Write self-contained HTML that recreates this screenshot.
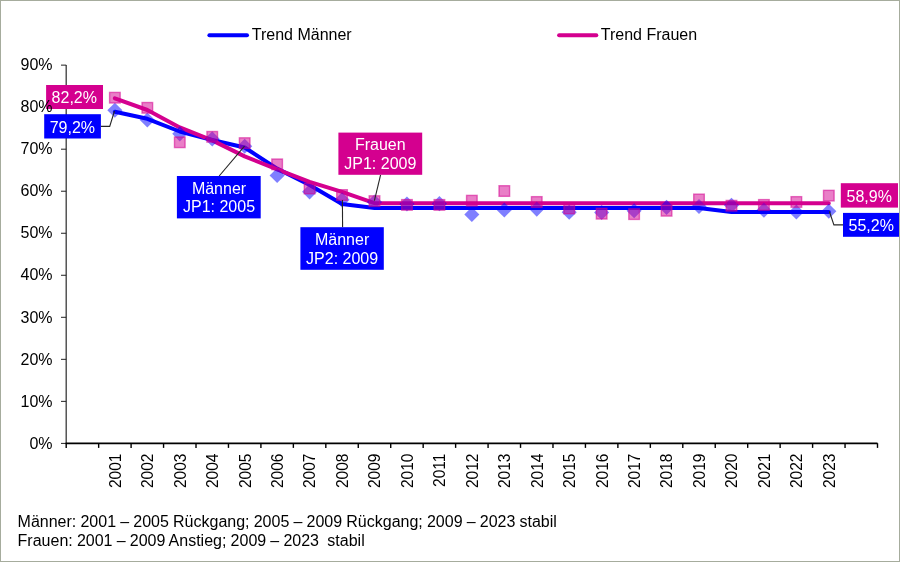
<!DOCTYPE html>
<html><head><meta charset="utf-8"><title>Trend Männer / Frauen</title>
<style>
html,body{margin:0;padding:0;background:#fff;}
body{width:900px;height:562px;overflow:hidden;}
svg{display:block;will-change:transform;}
text{font-family:"Liberation Sans",Arial,sans-serif;font-size:16px;}
.t{fill:#000;}
.w{fill:#fff;}
.ft{fill:#000;white-space:pre;word-spacing:-0.28px;}
</style></head>
<body>
<svg width="900" height="562" viewBox="0 0 900 562">
<rect x="0.5" y="0.5" width="899" height="561" fill="#fff" stroke="#a6ac9d" stroke-width="1"/>
<line x1="66.2" y1="64.93" x2="66.2" y2="443.2" stroke="#3a3a3a" stroke-width="1.3"/>
<line x1="61" y1="443.4" x2="66.2" y2="443.4" stroke="#222" stroke-width="1.0"/>
<line x1="61" y1="401.37" x2="66.2" y2="401.37" stroke="#222" stroke-width="1.0"/>
<line x1="61" y1="359.34" x2="66.2" y2="359.34" stroke="#222" stroke-width="1.0"/>
<line x1="61" y1="317.31" x2="66.2" y2="317.31" stroke="#222" stroke-width="1.0"/>
<line x1="61" y1="275.28" x2="66.2" y2="275.28" stroke="#222" stroke-width="1.0"/>
<line x1="61" y1="233.25" x2="66.2" y2="233.25" stroke="#222" stroke-width="1.0"/>
<line x1="61" y1="191.22" x2="66.2" y2="191.22" stroke="#222" stroke-width="1.0"/>
<line x1="61" y1="149.19" x2="66.2" y2="149.19" stroke="#222" stroke-width="1.0"/>
<line x1="61" y1="107.16" x2="66.2" y2="107.16" stroke="#222" stroke-width="1.0"/>
<line x1="61" y1="65.13" x2="66.2" y2="65.13" stroke="#222" stroke-width="1.0"/>
<text transform="matrix(1,0,0,1,52.6,448.6)" text-anchor="end" class="t">0%</text>
<text transform="matrix(1,0,0,1,52.6,406.57)" text-anchor="end" class="t">10%</text>
<text transform="matrix(1,0,0,1,52.6,364.54)" text-anchor="end" class="t">20%</text>
<text transform="matrix(1,0,0,1,52.6,322.51)" text-anchor="end" class="t">30%</text>
<text transform="matrix(1,0,0,1,52.6,280.48)" text-anchor="end" class="t">40%</text>
<text transform="matrix(1,0,0,1,52.6,238.45)" text-anchor="end" class="t">50%</text>
<text transform="matrix(1,0,0,1,52.6,196.42)" text-anchor="end" class="t">60%</text>
<text transform="matrix(1,0,0,1,52.6,154.39)" text-anchor="end" class="t">70%</text>
<text transform="matrix(1,0,0,1,52.6,70.33)" text-anchor="end" class="t">90%</text>
<line x1="65.6" y1="443.3" x2="877.5" y2="443.3" stroke="#000" stroke-width="1.8"/>
<line x1="66.2" y1="443.2" x2="66.2" y2="447.9" stroke="#000" stroke-width="1.4"/>
<line x1="98.65" y1="443.2" x2="98.65" y2="447.9" stroke="#000" stroke-width="1.4"/>
<line x1="131.1" y1="443.2" x2="131.1" y2="447.9" stroke="#000" stroke-width="1.4"/>
<line x1="163.56" y1="443.2" x2="163.56" y2="447.9" stroke="#000" stroke-width="1.4"/>
<line x1="196.01" y1="443.2" x2="196.01" y2="447.9" stroke="#000" stroke-width="1.4"/>
<line x1="228.46" y1="443.2" x2="228.46" y2="447.9" stroke="#000" stroke-width="1.4"/>
<line x1="260.91" y1="443.2" x2="260.91" y2="447.9" stroke="#000" stroke-width="1.4"/>
<line x1="293.36" y1="443.2" x2="293.36" y2="447.9" stroke="#000" stroke-width="1.4"/>
<line x1="325.82" y1="443.2" x2="325.82" y2="447.9" stroke="#000" stroke-width="1.4"/>
<line x1="358.27" y1="443.2" x2="358.27" y2="447.9" stroke="#000" stroke-width="1.4"/>
<line x1="390.72" y1="443.2" x2="390.72" y2="447.9" stroke="#000" stroke-width="1.4"/>
<line x1="423.17" y1="443.2" x2="423.17" y2="447.9" stroke="#000" stroke-width="1.4"/>
<line x1="455.62" y1="443.2" x2="455.62" y2="447.9" stroke="#000" stroke-width="1.4"/>
<line x1="488.08" y1="443.2" x2="488.08" y2="447.9" stroke="#000" stroke-width="1.4"/>
<line x1="520.53" y1="443.2" x2="520.53" y2="447.9" stroke="#000" stroke-width="1.4"/>
<line x1="552.98" y1="443.2" x2="552.98" y2="447.9" stroke="#000" stroke-width="1.4"/>
<line x1="585.43" y1="443.2" x2="585.43" y2="447.9" stroke="#000" stroke-width="1.4"/>
<line x1="617.88" y1="443.2" x2="617.88" y2="447.9" stroke="#000" stroke-width="1.4"/>
<line x1="650.34" y1="443.2" x2="650.34" y2="447.9" stroke="#000" stroke-width="1.4"/>
<line x1="682.79" y1="443.2" x2="682.79" y2="447.9" stroke="#000" stroke-width="1.4"/>
<line x1="715.24" y1="443.2" x2="715.24" y2="447.9" stroke="#000" stroke-width="1.4"/>
<line x1="747.69" y1="443.2" x2="747.69" y2="447.9" stroke="#000" stroke-width="1.4"/>
<line x1="780.14" y1="443.2" x2="780.14" y2="447.9" stroke="#000" stroke-width="1.4"/>
<line x1="812.6" y1="443.2" x2="812.6" y2="447.9" stroke="#000" stroke-width="1.4"/>
<line x1="845.05" y1="443.2" x2="845.05" y2="447.9" stroke="#000" stroke-width="1.4"/>
<line x1="877.5" y1="443.2" x2="877.5" y2="447.9" stroke="#000" stroke-width="1.4"/>
<text transform="translate(120.78,453.6) scale(1,0.97) rotate(-90)" text-anchor="end" class="t">2001</text>
<text transform="translate(153.23,453.6) scale(1,0.97) rotate(-90)" text-anchor="end" class="t">2002</text>
<text transform="translate(185.68,453.6) scale(1,0.97) rotate(-90)" text-anchor="end" class="t">2003</text>
<text transform="translate(218.13,453.6) scale(1,0.97) rotate(-90)" text-anchor="end" class="t">2004</text>
<text transform="translate(250.59,453.6) scale(1,0.97) rotate(-90)" text-anchor="end" class="t">2005</text>
<text transform="translate(283.04,453.6) scale(1,0.97) rotate(-90)" text-anchor="end" class="t">2006</text>
<text transform="translate(315.49,453.6) scale(1,0.97) rotate(-90)" text-anchor="end" class="t">2007</text>
<text transform="translate(347.94,453.6) scale(1,0.97) rotate(-90)" text-anchor="end" class="t">2008</text>
<text transform="translate(380.39,453.6) scale(1,0.97) rotate(-90)" text-anchor="end" class="t">2009</text>
<text transform="translate(412.85,453.6) scale(1,0.97) rotate(-90)" text-anchor="end" class="t">2010</text>
<text transform="translate(445.3,453.6) scale(1,0.97) rotate(-90)" text-anchor="end" class="t">2011</text>
<text transform="translate(477.75,453.6) scale(1,0.97) rotate(-90)" text-anchor="end" class="t">2012</text>
<text transform="translate(510.2,453.6) scale(1,0.97) rotate(-90)" text-anchor="end" class="t">2013</text>
<text transform="translate(542.65,453.6) scale(1,0.97) rotate(-90)" text-anchor="end" class="t">2014</text>
<text transform="translate(575.11,453.6) scale(1,0.97) rotate(-90)" text-anchor="end" class="t">2015</text>
<text transform="translate(607.56,453.6) scale(1,0.97) rotate(-90)" text-anchor="end" class="t">2016</text>
<text transform="translate(640.01,453.6) scale(1,0.97) rotate(-90)" text-anchor="end" class="t">2017</text>
<text transform="translate(672.46,453.6) scale(1,0.97) rotate(-90)" text-anchor="end" class="t">2018</text>
<text transform="translate(704.91,453.6) scale(1,0.97) rotate(-90)" text-anchor="end" class="t">2019</text>
<text transform="translate(737.37,453.6) scale(1,0.97) rotate(-90)" text-anchor="end" class="t">2020</text>
<text transform="translate(769.82,453.6) scale(1,0.97) rotate(-90)" text-anchor="end" class="t">2021</text>
<text transform="translate(802.27,453.6) scale(1,0.97) rotate(-90)" text-anchor="end" class="t">2022</text>
<text transform="translate(834.72,453.6) scale(1,0.97) rotate(-90)" text-anchor="end" class="t">2023</text>
<polyline points="114.88,111.7 147.33,118.8 179.78,131.5 212.23,140 244.69,147.5 277.14,168.6 309.59,185 342.04,203.9 374.49,207.9 406.95,207.9 439.4,207.9 471.85,207.9 504.3,207.9 536.75,207.9 569.21,207.9 601.66,207.9 634.11,207.9 666.56,207.9 699.01,207.9 731.47,212.1 763.92,212.1 796.37,212.1 828.82,212.1" fill="none" stroke="#0000FF" stroke-width="4" stroke-linejoin="round" stroke-linecap="round"/>
<polyline points="114.88,98.3 147.33,110 179.78,127.4 212.23,140.4 244.69,156.4 277.14,169.4 309.59,181.9 342.04,191.8 374.49,203.2 406.95,203.3 439.4,203.3 471.85,203.3 504.3,203.3 536.75,203.3 569.21,203.3 601.66,203.3 634.11,203.3 666.56,203.3 699.01,203.3 731.47,203.3 763.92,203.3 796.37,203.3 828.82,203.3" fill="none" stroke="#D4008F" stroke-width="4" stroke-linejoin="round" stroke-linecap="round"/>
<path d="M114.88 102.77L122.43 110.32L114.88 117.87L107.33 110.32Z" fill="#0000FF" fill-opacity="0.5"/>
<path d="M147.33 112.44L154.88 119.99L147.33 127.54L139.78 119.99Z" fill="#0000FF" fill-opacity="0.5"/>
<path d="M179.78 126.31L187.33 133.86L179.78 141.41L172.23 133.86Z" fill="#0000FF" fill-opacity="0.5"/>
<path d="M212.23 131.35L219.78 138.9L212.23 146.45L204.68 138.9Z" fill="#0000FF" fill-opacity="0.5"/>
<path d="M244.69 138.71L252.24 146.26L244.69 153.81L237.14 146.26Z" fill="#0000FF" fill-opacity="0.5"/>
<path d="M277.14 167.92L284.69 175.47L277.14 183.02L269.59 175.47Z" fill="#0000FF" fill-opacity="0.5"/>
<path d="M309.59 184.31L317.14 191.86L309.59 199.41L302.04 191.86Z" fill="#0000FF" fill-opacity="0.5"/>
<path d="M342.04 192.3L349.59 199.85L342.04 207.4L334.49 199.85Z" fill="#0000FF" fill-opacity="0.5"/>
<path d="M374.49 194.4L382.04 201.95L374.49 209.5L366.94 201.95Z" fill="#0000FF" fill-opacity="0.5"/>
<path d="M406.95 196.5L414.5 204.05L406.95 211.6L399.4 204.05Z" fill="#0000FF" fill-opacity="0.5"/>
<path d="M439.4 196.08L446.95 203.63L439.4 211.18L431.85 203.63Z" fill="#0000FF" fill-opacity="0.5"/>
<path d="M471.85 207.01L479.4 214.56L471.85 222.11L464.3 214.56Z" fill="#0000FF" fill-opacity="0.5"/>
<path d="M504.3 202.38L511.85 209.93L504.3 217.48L496.75 209.93Z" fill="#0000FF" fill-opacity="0.5"/>
<path d="M536.75 201.54L544.3 209.09L536.75 216.64L529.2 209.09Z" fill="#0000FF" fill-opacity="0.5"/>
<path d="M569.21 204.7L576.76 212.25L569.21 219.8L561.66 212.25Z" fill="#0000FF" fill-opacity="0.5"/>
<path d="M601.66 204.91L609.21 212.46L601.66 220.01L594.11 212.46Z" fill="#0000FF" fill-opacity="0.5"/>
<path d="M634.11 203.22L641.66 210.77L634.11 218.32L626.56 210.77Z" fill="#0000FF" fill-opacity="0.5"/>
<path d="M666.56 199.86L674.11 207.41L666.56 214.96L659.01 207.41Z" fill="#0000FF" fill-opacity="0.5"/>
<path d="M699.01 199.02L706.56 206.57L699.01 214.12L691.46 206.57Z" fill="#0000FF" fill-opacity="0.5"/>
<path d="M731.47 197.76L739.02 205.31L731.47 212.86L723.92 205.31Z" fill="#0000FF" fill-opacity="0.5"/>
<path d="M763.92 202.59L771.47 210.14L763.92 217.69L756.37 210.14Z" fill="#0000FF" fill-opacity="0.5"/>
<path d="M796.37 204.48L803.92 212.03L796.37 219.58L788.82 212.03Z" fill="#0000FF" fill-opacity="0.5"/>
<path d="M828.82 203.64L836.37 211.19L828.82 218.74L821.27 211.19Z" fill="#0000FF" fill-opacity="0.5"/>
<rect x="109.58" y="92.41" width="10.6" height="10.6" fill="#D4008F" fill-opacity="0.5" stroke="#D4008F" stroke-opacity="0.55" stroke-width="1.4"/>
<rect x="142.03" y="102.5" width="10.6" height="10.6" fill="#D4008F" fill-opacity="0.5" stroke="#D4008F" stroke-opacity="0.55" stroke-width="1.4"/>
<rect x="174.48" y="136.97" width="10.6" height="10.6" fill="#D4008F" fill-opacity="0.5" stroke="#D4008F" stroke-opacity="0.55" stroke-width="1.4"/>
<rect x="206.93" y="131.5" width="10.6" height="10.6" fill="#D4008F" fill-opacity="0.5" stroke="#D4008F" stroke-opacity="0.55" stroke-width="1.4"/>
<rect x="239.39" y="137.81" width="10.6" height="10.6" fill="#D4008F" fill-opacity="0.5" stroke="#D4008F" stroke-opacity="0.55" stroke-width="1.4"/>
<rect x="271.84" y="159.03" width="10.6" height="10.6" fill="#D4008F" fill-opacity="0.5" stroke="#D4008F" stroke-opacity="0.55" stroke-width="1.4"/>
<rect x="304.29" y="183.2" width="10.6" height="10.6" fill="#D4008F" fill-opacity="0.5" stroke="#D4008F" stroke-opacity="0.55" stroke-width="1.4"/>
<rect x="336.74" y="189.71" width="10.6" height="10.6" fill="#D4008F" fill-opacity="0.5" stroke="#D4008F" stroke-opacity="0.55" stroke-width="1.4"/>
<rect x="369.19" y="195.81" width="10.6" height="10.6" fill="#D4008F" fill-opacity="0.5" stroke="#D4008F" stroke-opacity="0.55" stroke-width="1.4"/>
<rect x="401.65" y="199.59" width="10.6" height="10.6" fill="#D4008F" fill-opacity="0.5" stroke="#D4008F" stroke-opacity="0.55" stroke-width="1.4"/>
<rect x="434.1" y="199.59" width="10.6" height="10.6" fill="#D4008F" fill-opacity="0.5" stroke="#D4008F" stroke-opacity="0.55" stroke-width="1.4"/>
<rect x="466.55" y="195.39" width="10.6" height="10.6" fill="#D4008F" fill-opacity="0.5" stroke="#D4008F" stroke-opacity="0.55" stroke-width="1.4"/>
<rect x="499" y="185.72" width="10.6" height="10.6" fill="#D4008F" fill-opacity="0.5" stroke="#D4008F" stroke-opacity="0.55" stroke-width="1.4"/>
<rect x="531.45" y="196.65" width="10.6" height="10.6" fill="#D4008F" fill-opacity="0.5" stroke="#D4008F" stroke-opacity="0.55" stroke-width="1.4"/>
<rect x="563.91" y="203.16" width="10.6" height="10.6" fill="#D4008F" fill-opacity="0.5" stroke="#D4008F" stroke-opacity="0.55" stroke-width="1.4"/>
<rect x="596.36" y="208.42" width="10.6" height="10.6" fill="#D4008F" fill-opacity="0.5" stroke="#D4008F" stroke-opacity="0.55" stroke-width="1.4"/>
<rect x="628.81" y="208.84" width="10.6" height="10.6" fill="#D4008F" fill-opacity="0.5" stroke="#D4008F" stroke-opacity="0.55" stroke-width="1.4"/>
<rect x="661.26" y="205.47" width="10.6" height="10.6" fill="#D4008F" fill-opacity="0.5" stroke="#D4008F" stroke-opacity="0.55" stroke-width="1.4"/>
<rect x="693.71" y="194.13" width="10.6" height="10.6" fill="#D4008F" fill-opacity="0.5" stroke="#D4008F" stroke-opacity="0.55" stroke-width="1.4"/>
<rect x="726.17" y="200.43" width="10.6" height="10.6" fill="#D4008F" fill-opacity="0.5" stroke="#D4008F" stroke-opacity="0.55" stroke-width="1.4"/>
<rect x="758.62" y="199.59" width="10.6" height="10.6" fill="#D4008F" fill-opacity="0.5" stroke="#D4008F" stroke-opacity="0.55" stroke-width="1.4"/>
<rect x="791.07" y="196.65" width="10.6" height="10.6" fill="#D4008F" fill-opacity="0.5" stroke="#D4008F" stroke-opacity="0.55" stroke-width="1.4"/>
<rect x="823.52" y="190.34" width="10.6" height="10.6" fill="#D4008F" fill-opacity="0.5" stroke="#D4008F" stroke-opacity="0.55" stroke-width="1.4"/>
<polyline points="100.9,126.4 109.7,126.4 114.5,111" fill="none" stroke="#262626" stroke-width="1.1"/>
<polyline points="843,224.9 833.9,224.9 829.4,211.5" fill="none" stroke="#262626" stroke-width="1.1"/>
<line x1="219.2" y1="176" x2="244.5" y2="146.1" stroke="#262626" stroke-width="1.1"/>
<line x1="342.6" y1="227.2" x2="342.4" y2="199.9" stroke="#262626" stroke-width="1.1"/>
<line x1="380.6" y1="174.8" x2="374.4" y2="200.6" stroke="#262626" stroke-width="1.1"/>
<rect x="46.1" y="85" width="56.9" height="24" fill="#D4008F"/>
<text transform="matrix(1,0,0,1,74.3,103)" text-anchor="middle" class="w">82,2%</text>
<rect x="44.2" y="114.2" width="56.7" height="24.3" fill="#0000FF"/>
<text transform="matrix(1,0,0,1,72.4,132.6)" text-anchor="middle" class="w">79,2%</text>
<rect x="840.8" y="183.2" width="57.2" height="24.4" fill="#D4008F"/>
<text transform="matrix(1,0,0,1,869.2,201.9)" text-anchor="middle" class="w">58,9%</text>
<rect x="843" y="212.9" width="56" height="23.9" fill="#0000FF"/>
<text transform="matrix(1,0,0,1,871.2,231.2)" text-anchor="middle" class="w">55,2%</text>
<rect x="176.9" y="176" width="83.8" height="42.4" fill="#0000FF"/>
<text transform="matrix(1,0,0,1,219,193.7)" text-anchor="middle" class="w">Männer</text>
<text transform="matrix(1,0,0,1,219,212)" text-anchor="middle" class="w">JP1: 2005</text>
<rect x="300.4" y="227.2" width="83.4" height="42.6" fill="#0000FF"/>
<text transform="matrix(1,0,0,1,342.1,245)" text-anchor="middle" class="w">Männer</text>
<text transform="matrix(1,0,0,1,342.1,263.7)" text-anchor="middle" class="w">JP2: 2009</text>
<rect x="338.4" y="132.6" width="83.8" height="42.2" fill="#D4008F"/>
<text transform="matrix(1,0,0,1,380.3,150)" text-anchor="middle" class="w">Frauen</text>
<text transform="matrix(1,0,0,1,380.3,168.7)" text-anchor="middle" class="w">JP1: 2009</text>
<text transform="matrix(1,0,0,1,52.6,112.36)" text-anchor="end" class="t">80%</text>
<line x1="209.4" y1="35.3" x2="247" y2="35.3" stroke="#0000FF" stroke-width="4" stroke-linecap="round"/>
<text transform="matrix(1,0,0,1,251.8,40)" class="t">Trend Männer</text>
<line x1="559.1" y1="35.3" x2="596.3" y2="35.3" stroke="#D4008F" stroke-width="4" stroke-linecap="round"/>
<text transform="matrix(1,0,0,1,600.8,40)" class="t">Trend Frauen</text>
<text transform="matrix(1,0,0,1,17.6,527.1)" class="ft">Männer: 2001 – 2005 Rückgang; 2005 – 2009 Rückgang; 2009 – 2023 stabil</text>
<text transform="matrix(1,0,0,1,17.6,545.5)" class="ft" xml:space="preserve">Frauen: 2001 – 2009 Anstieg; 2009 – 2023  stabil</text>
</svg>
</body></html>
